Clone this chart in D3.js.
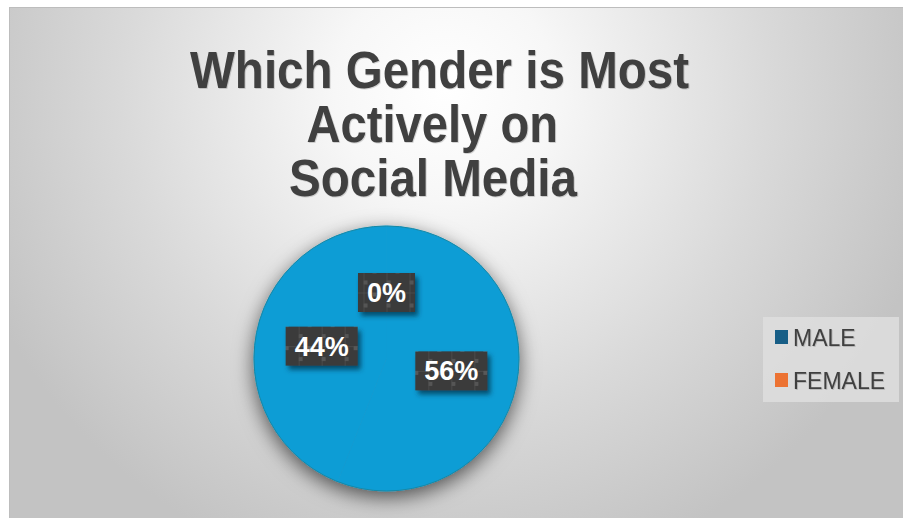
<!DOCTYPE html>
<html>
<head>
<meta charset="utf-8">
<script src="https://cdn.jsdelivr.net/npm/d3@7"></script>
<style>
  html, body { margin: 0; padding: 0; background: #ffffff; }
  svg { display: block; }
  text { font-family: "Liberation Sans", Arial, sans-serif; }
</style>
</head>
<body>
<svg id="chart" width="903" height="518"></svg>
<script>
// Chart data
const titleLines = ["Which Gender is Most", "Actively on", "Social Media"];
const sliceValues = [56, 44, 0];
const sliceColor = "#0e9dd5";
const legendLabels = ["MALE", "FEMALE"];
const legendColors = ["#175e86", "#ec7232"];

const W = 903, H = 518;
const svg = d3.select("#chart");
const defs = svg.append("defs");

// Background gradient of the chart area
const bg = defs.append("radialGradient")
  .attr("id", "bgGrad").attr("gradientUnits", "userSpaceOnUse")
  .attr("cx", 445).attr("cy", 90).attr("r", 500);
[[0, "#ffffff"], [0.22, "#f7f7f7"], [0.65, "#d9d9d9"], [1, "#c3c3c3"]]
  .forEach(([o, c]) => bg.append("stop").attr("offset", o).attr("stop-color", c));

// Soft shadow under the pie
const pieShadow = defs.append("filter").attr("id", "pieShadow")
  .attr("x", "-30%").attr("y", "-30%").attr("width", "160%").attr("height", "160%");
pieShadow.append("feDropShadow").attr("dx", 0).attr("dy", 6)
  .attr("stdDeviation", 10).attr("flood-color", "#000").attr("flood-opacity", 0.62);

// Shadow behind label boxes
const boxShadow = defs.append("filter").attr("id", "boxShadow")
  .attr("x", "-30%").attr("y", "-30%").attr("width", "160%").attr("height", "180%");
boxShadow.append("feDropShadow").attr("dx", 3).attr("dy", 4)
  .attr("stdDeviation", 2.5).attr("flood-color", "#00304a").attr("flood-opacity", 0.75);

// Subtle text shadow
const txtShadow = defs.append("filter").attr("id", "txtShadow")
  .attr("x", "-10%").attr("y", "-20%").attr("width", "120%").attr("height", "150%");
txtShadow.append("feDropShadow").attr("dx", 0.8).attr("dy", 0.8)
  .attr("stdDeviation", 0.5).attr("flood-color", "#000").attr("flood-opacity", 0.2);

// Textured fill for the data label boxes
const pat = defs.append("pattern").attr("id", "boxPattern")
  .attr("patternUnits", "userSpaceOnUse").attr("width", 23).attr("height", 23);
pat.append("rect").attr("width", 23).attr("height", 23).attr("fill", "#3b3b3b");
pat.append("rect").attr("x", 0).attr("y", 0).attr("width", 1).attr("height", 23).attr("fill", "#4a4a4a");
pat.append("rect").attr("x", 0).attr("y", 0).attr("width", 23).attr("height", 1).attr("fill", "#4a4a4a");
pat.append("rect").attr("x", 9).attr("y", 0).attr("width", 4).attr("height", 4).attr("fill", "#585858");
pat.append("rect").attr("x", 0).attr("y", 11).attr("width", 4).attr("height", 4).attr("fill", "#555555");

// Chart area
svg.append("rect").attr("x", 9.5).attr("y", 7.5).attr("width", W - 9).attr("height", H - 7)
  .attr("fill", "url(#bgGrad)").attr("stroke", "#bdbdbd").attr("stroke-width", 1);

// Title: each line spans a fixed start and width
const titleStart = [190, 306.5, 289];
const titleWidth = [499, 251.5, 288];
svg.append("g").selectAll("text").data(titleLines).join("text")
  .attr("x", (d, i) => titleStart[i])
  .attr("y", (d, i) => 88 + i * 54)
  .attr("textLength", (d, i) => titleWidth[i])
  .attr("lengthAdjust", "spacingAndGlyphs")
  .attr("font-size", 51).attr("font-weight", "bold")
  .attr("fill", "#404040")
  .attr("filter", "url(#txtShadow)")
  .text(d => d);

// Pie
const cx = 386.5, cy = 358.5, R = 132.5;
const pie = d3.pie().sort(null).value(d => d);
const arcs = pie(sliceValues);
const arc = d3.arc().innerRadius(0).outerRadius(R);
const labelArc = d3.arc().innerRadius(66).outerRadius(66);
const total = d3.sum(sliceValues);
const pct = d3.format(".0%");

const pieG = svg.append("g").attr("transform", `translate(${cx},${cy})`);
pieG.append("g").attr("filter", "url(#pieShadow)")
  .selectAll("path").data(arcs).join("path")
  .attr("d", arc)
  .attr("fill", sliceColor)
  .attr("stroke", sliceColor).attr("stroke-width", 0.5);
pieG.append("circle").attr("r", R).attr("fill", "none")
  .attr("stroke", "#1688a6").attr("stroke-width", 1);

// Data labels
const lbl = pieG.append("g").selectAll("g").data(arcs).join("g")
  .attr("transform", d => `translate(${labelArc.centroid(d)})`);
lbl.append("text")
  .attr("text-anchor", "middle").attr("dy", "0.35em")
  .attr("font-size", 27).attr("font-weight", "bold")
  .attr("fill", "#ffffff")
  .text(d => pct(d.value / total));
lbl.each(function () {
  const g = d3.select(this);
  const bb = g.select("text").node().getBBox();
  const w = bb.width + 18, h = 39;
  g.insert("rect", "text")
    .attr("x", -w / 2).attr("y", -h / 2)
    .attr("width", w).attr("height", h)
    .attr("fill", "url(#boxPattern)")
    .attr("filter", "url(#boxShadow)");
});

// Legend
const leg = svg.append("g").attr("transform", "translate(763,317)");
leg.append("rect").attr("width", 136).attr("height", 85).attr("fill", "#dedede").attr("opacity", 0.85);
const items = leg.selectAll("g").data(legendLabels).join("g")
  .attr("transform", (d, i) => `translate(12,${13 + i * 43})`);
items.append("rect").attr("width", 13).attr("height", 14)
  .attr("fill", (d, i) => legendColors[i]);
items.append("text").attr("x", 18).attr("y", 16)
  .attr("font-size", 23).attr("fill", "#404040")
  .attr("filter", "url(#txtShadow)")
  .text(d => d);
</script>
</body>
</html>
